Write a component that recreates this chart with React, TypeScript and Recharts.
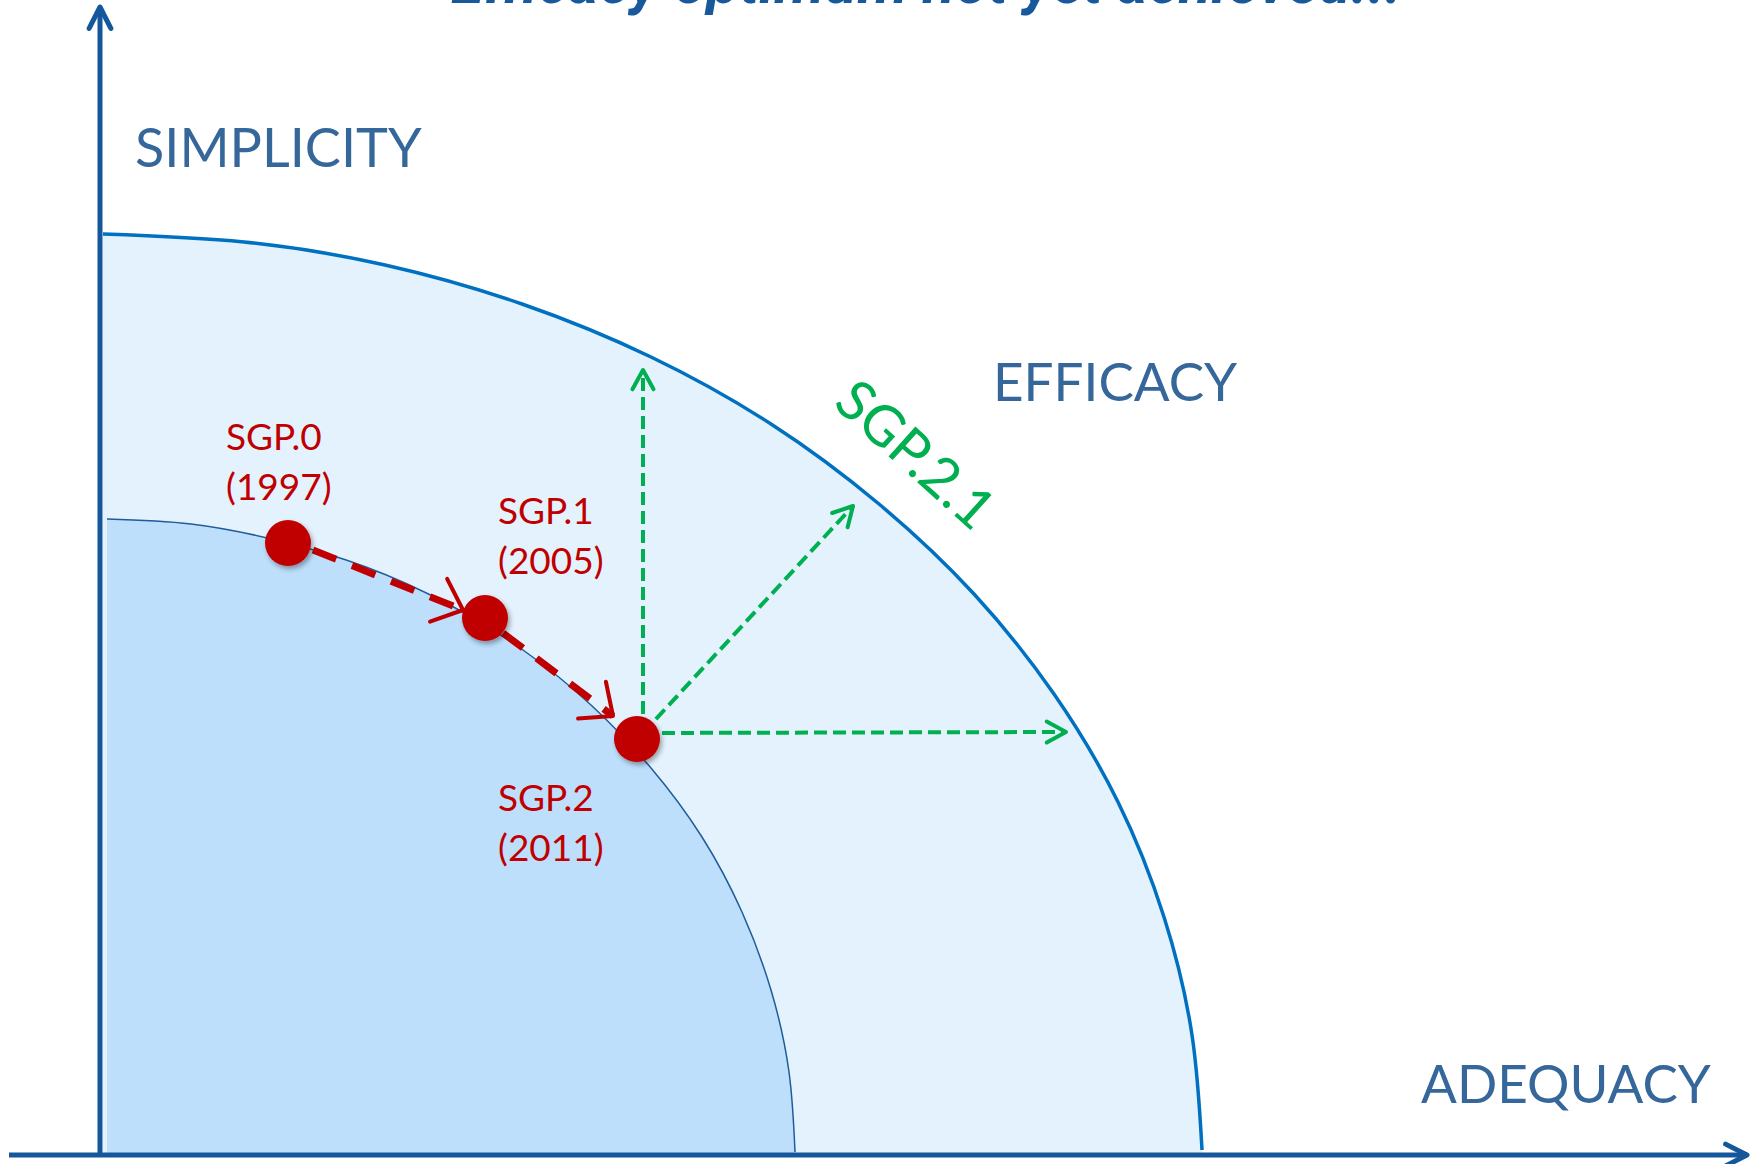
import React from 'react';
import { ComposedChart, Area, Scatter, XAxis, YAxis, ReferenceLine, Customized } from 'recharts';

const W = 1754;
const H = 1164;

// frontiers: x = adequacy, y = simplicity (origin where the axes cross)
const OUTER_FRONTIER = [
  { x: 3, y: 921 }, { x: 144, y: 913 }, { x: 285, y: 890 }, { x: 422, y: 851 },
  { x: 551, y: 798 }, { x: 671, y: 731 }, { x: 779, y: 651 }, { x: 874, y: 561 },
  { x: 954, y: 461 }, { x: 1018, y: 353 }, { x: 1064, y: 238 }, { x: 1092, y: 120 },
  { x: 1102, y: 5 },
];
const INNER_FRONTIER = [
  { x: 7, y: 636 }, { x: 91, y: 631 }, { x: 180, y: 614 }, { x: 266, y: 588 },
  { x: 348, y: 551 }, { x: 423, y: 505 }, { x: 491, y: 450 }, { x: 551, y: 387 },
  { x: 602, y: 318 }, { x: 642, y: 243 }, { x: 671, y: 165 }, { x: 689, y: 83 },
  { x: 695, y: 3 },
];

// the three SGP versions
const PROGRAMMES = ['SGP.0', 'SGP.1', 'SGP.2'];
const YEARS = ['(1997)', '(2005)', '(2011)'];
const ADEQUACY = [188, 385, 537];
const SIMPLICITY = [612, 537, 416];

// red path between versions
const PATH_FROM = [{ x: 213, y: 605 }, { x: 403, y: 522 }];
const PATH_TO = [{ x: 363, y: 545 }, { x: 513, y: 439 }];

// SGP.2.1 reform directions
const REFORM_ORIGIN = { x: 543, y: 422 };
const REFORM_TARGETS = [{ x: 543, y: 785 }, { x: 753, y: 649 }, { x: 966, y: 423 }];

const points = PROGRAMMES.map((name, i) => ({ name, year: YEARS[i], x: ADEQUACY[i], y: SIMPLICITY[i] }));

const LABEL_OFFSET: Record<string, { dx: number; dy: number }> = {
  'SGP.0': { dx: -62, dy: -93 },
  'SGP.1': { dx: 13, dy: -94 },
  'SGP.2': { dx: -139, dy: 72 },
};

const FONT = 'Lato, "Open Sans", sans-serif';
const AXIS_BLUE = '#14579a';
const TEXT_BLUE = '#35679b';
const RED = '#c00000';
const GREEN = '#00b050';

const arrow = (o: { stroke: string; width: number; dash?: string; head: number; spread: number; headWidth: number }) =>
  (p: any) => {
    const { x1, y1, x2, y2 } = p;
    const ang = Math.atan2(y2 - y1, x2 - x1);
    const a1 = ang + Math.PI - o.spread;
    const a2 = ang + Math.PI + o.spread;
    const d = `M${x2 + o.head * Math.cos(a1)},${y2 + o.head * Math.sin(a1)} L${x2},${y2} L${x2 + o.head * Math.cos(a2)},${y2 + o.head * Math.sin(a2)}`;
    return (
      <g>
        <line x1={x1} y1={y1} x2={x2} y2={y2} stroke={o.stroke} strokeWidth={o.width} strokeDasharray={o.dash} />
        <path d={d} fill="none" stroke={o.stroke} strokeWidth={o.headWidth} strokeLinecap="round" strokeLinejoin="round" />
      </g>
    );
  };

const axisArrow = arrow({ stroke: AXIS_BLUE, width: 5, head: 24, spread: 0.47, headWidth: 5 });
const redArrow = arrow({ stroke: RED, width: 7, dash: '25 17', head: 35, spread: 0.72, headWidth: 4 });
const greenArrow = arrow({ stroke: GREEN, width: 4, dash: '13 6', head: 22, spread: 0.5, headWidth: 4 });

const VersionDot = (p: any) => {
  const off = LABEL_OFFSET[p.payload.name];
  return (
    <g>
      <circle cx={p.cx} cy={p.cy} r={23} fill={RED} filter="url(#dotShadow)" />
      <text x={p.cx + off.dx} y={p.cy + off.dy} fill={RED} fontSize={37} fontFamily={FONT}>{p.payload.name}</text>
      <text x={p.cx + off.dx} y={p.cy + off.dy + 50} fill={RED} fontSize={37} fontFamily={FONT}>{p.payload.year}</text>
    </g>
  );
};

const Annotations = () => (
  <g>
    <defs>
      <filter id="dotShadow" x="-50%" y="-50%" width="200%" height="200%">
        <feDropShadow dx="2" dy="3" stdDeviation="2.5" floodColor="#000" floodOpacity="0.35" />
      </filter>
    </defs>
    <text x={451} y={3} fill="#17599b" fontSize={60} fontWeight="bold" fontStyle="italic" fontFamily="Roboto, sans-serif">
      Efficacy optimum not yet achieved...
    </text>
    <text x={135} y={167} fill={TEXT_BLUE} fontSize={54} fontFamily={FONT}>SIMPLICITY</text>
    <text x={993} y={401} fill={TEXT_BLUE} fontSize={53} fontFamily={FONT}>EFFICACY</text>
    <text x={1421} y={1103} fill={TEXT_BLUE} fontSize={53} fontFamily={FONT}>ADEQUACY</text>
    <text x={917} y={453} fill={GREEN} fontSize={56} fontFamily={FONT} textAnchor="middle" dominantBaseline="central"
      transform="rotate(42 917 453)">SGP.2.1</text>
  </g>
);

export default function App() {
  return (
    <div style={{ position: 'absolute', left: 0, top: 0, width: W, height: H, background: '#fff' }}>
      <ComposedChart width={W} height={H} margin={{ top: 0, right: 0, bottom: 0, left: 0 }}>
        <XAxis type="number" dataKey="x" domain={[-100, 1654]} allowDataOverflow hide />
        <YAxis type="number" dataKey="y" domain={[-9, 1155]} allowDataOverflow hide />
        <Area data={OUTER_FRONTIER} dataKey="y" type="natural" baseValue={0} dot={false} activeDot={false}
          fill="#e4f2fe" fillOpacity={1} stroke="#0070c0" strokeWidth={3.5} isAnimationActive={false} />
        <Area data={INNER_FRONTIER} dataKey="y" type="natural" baseValue={0} dot={false} activeDot={false}
          fill="#bddffc" fillOpacity={1} stroke="#1f5c99" strokeWidth={1.5} isAnimationActive={false} />
        {REFORM_TARGETS.map((t, i) => (
          <ReferenceLine key={`g${i}`} segment={[REFORM_ORIGIN, t]} ifOverflow="visible" shape={greenArrow} />
        ))}
        {PATH_FROM.map((f, i) => (
          <ReferenceLine key={`r${i}`} segment={[f, PATH_TO[i]]} ifOverflow="visible" shape={redArrow} />
        ))}
        <ReferenceLine segment={[{ x: 0, y: 0 }, { x: 0, y: 1148 }]} ifOverflow="visible" shape={axisArrow} />
        <ReferenceLine segment={[{ x: -91, y: 0 }, { x: 1647, y: 0 }]} ifOverflow="visible" shape={axisArrow} />
        <Scatter data={points} dataKey="y" shape={VersionDot} isAnimationActive={false} />
        <Customized component={Annotations} />
      </ComposedChart>
    </div>
  );
}
